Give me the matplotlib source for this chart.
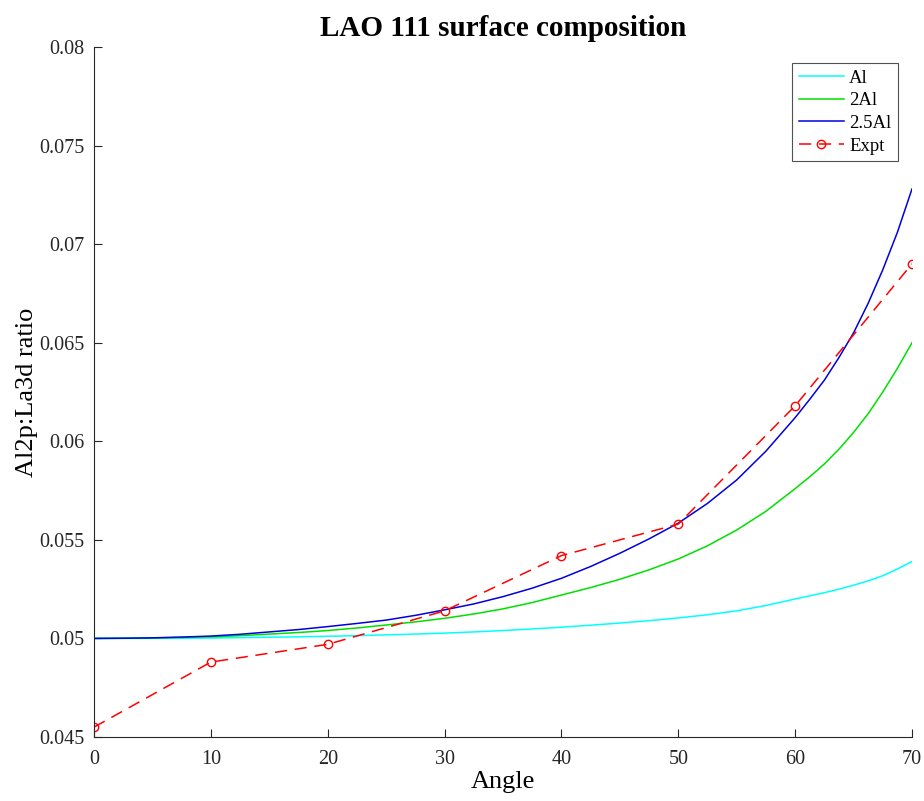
import matplotlib.pyplot as plt
import numpy as np

plt.rcParams['font.family'] = ['Liberation Serif', 'DejaVu Serif']

# values
angles = [0, 2.5, 5, 7.5, 10, 12.5, 15, 17.5, 20, 22.5, 25, 27.5, 30, 32.5, 35, 37.5,
          40, 42.5, 45, 47.5, 50, 52.5, 55, 57.5, 60, 61.25, 62.5, 63.75, 65, 66.25,
          67.5, 68.75, 70]
al = [0.05, 0.05, 0.05, 0.05001, 0.05002, 0.05004, 0.05006, 0.05008, 0.05011, 0.05014,
      0.05018, 0.05022, 0.05027, 0.05033, 0.0504, 0.05048, 0.05057, 0.05067, 0.05078,
      0.0509, 0.05104, 0.0512, 0.0514, 0.05167, 0.052, 0.05216, 0.05232, 0.0525,
      0.0527, 0.05292, 0.05318, 0.05352, 0.0539]
al2 = [0.05, 0.05001, 0.05002, 0.05005, 0.05008, 0.05014, 0.05022, 0.0503, 0.0504,
       0.05053, 0.05068, 0.05084, 0.05102, 0.05124, 0.0515, 0.05182, 0.0522, 0.05258,
       0.053, 0.05348, 0.05403, 0.0547, 0.0555, 0.05645, 0.0576, 0.0582, 0.05885,
       0.0596, 0.06045, 0.0614, 0.0625, 0.0637, 0.065]
al25 = [0.05, 0.05001, 0.05003, 0.05007, 0.05012, 0.05021, 0.05033, 0.05045, 0.0506,
        0.05076, 0.05093, 0.05117, 0.05145, 0.05175, 0.05212, 0.05255, 0.05305, 0.05365,
        0.05432, 0.05505, 0.05585, 0.05685, 0.05804, 0.0595, 0.0612, 0.06213, 0.0631,
        0.06425, 0.0655, 0.067, 0.0687, 0.0706, 0.0728]

expt_angles = [0, 10, 20, 30, 40, 50, 60, 70]
expt = [0.0455, 0.0488, 0.0497, 0.0514, 0.0542, 0.0558, 0.0618, 0.0690]

yticks = [0.045, 0.05, 0.055, 0.06, 0.065, 0.07, 0.075, 0.08]
xticks = [0, 10, 20, 30, 40, 50, 60, 70]

fig = plt.figure(figsize=(9.24, 8.01), dpi=100)
ax = fig.add_axes([94/924, 1-737/801, 818/924, 690/801])

ax.plot(angles, al, color='cyan', lw=1.1, label='Al')
ax.plot(angles, al2, color='#00e000', lw=1.1, label='2Al')
ax.plot(angles, al25, color='#0000e0', lw=1.1, label='2.5Al')
ax.plot(expt_angles, expt, color='red', lw=1.1, linestyle=(0, (8, 5)), marker='o',
        markersize=6, markerfacecolor='none', markeredgewidth=1, label='Expt')

ax.set_xlim(0, 70)
ax.set_ylim(0.045, 0.08)
ax.set_xticks(xticks)
ax.set_yticks(yticks)
ax.set_yticklabels(['%g' % v for v in yticks])
ax.tick_params(direction='in', length=6, labelsize=14.5, colors='#262626')
ax.tick_params(axis='y', pad=7)
ax.tick_params(axis='x', pad=9)
for s in ['top', 'right']:
    ax.spines[s].set_visible(False)
for s in ['left', 'bottom']:
    ax.spines[s].set_color('#262626')

ax.set_xlabel('Angle', fontsize=19, labelpad=2)
ax.set_ylabel('Al2p:La3d ratio', fontsize=19, labelpad=1)
ax.set_title('LAO 111 surface composition', fontsize=21, fontweight='bold', pad=8)

leg = ax.legend(loc='upper right', bbox_to_anchor=(0.983, 0.977), fontsize=13.5,
                fancybox=False, edgecolor='#262626', handlelength=2.4,
                borderaxespad=0, labelspacing=0.3, handletextpad=0.3, borderpad=0.35)
leg.get_frame().set_linewidth(0.8)

fig.savefig('out.png', dpi=100)
